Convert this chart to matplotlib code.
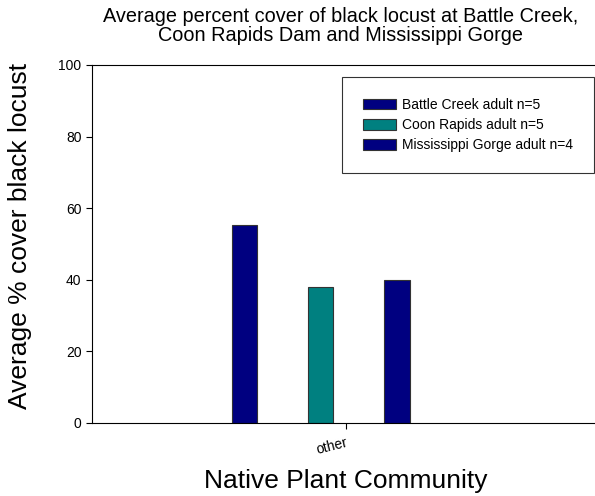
import matplotlib.pyplot as plt
from matplotlib.patches import Patch

plt.rcParams['font.family'] = ['Liberation Sans', 'DejaVu Sans']

# data
series = ['Battle Creek adult n=5', 'Coon Rapids adult n=5', 'Mississippi Gorge adult n=4']
values = [55.3, 37.8, 39.9]
colors = ['#000080', '#008080', '#000080']
offsets = [-0.4, -0.1, 0.2]
category = 'other'

fig = plt.figure(figsize=(5.95, 4.96), dpi=100)
ax = fig.add_axes([92 / 595, (496 - 422.7) / 496, (600 - 92) / 595, 357.7 / 496])

for name, v, c, off in zip(series, values, colors, offsets):
    ax.bar(off, v, width=0.1, color=c, edgecolor='#333333', linewidth=0.8, label=name)

ax.set_xlim(-1, 1)
ax.set_ylim(0, 100)
ax.set_xticks([0])
ax.set_xticklabels([category], rotation=14, fontsize=10, ha='right',
                   rotation_mode='anchor')
ax.set_yticks(range(0, 101, 20))
ax.tick_params(axis='y', labelsize=10, direction='out', length=4)
ax.tick_params(axis='x', direction='out', length=4, pad=5)
ax.spines['right'].set_visible(False)
for s in ['left', 'top', 'bottom']:
    ax.spines[s].set_linewidth(0.8)

fig.text(20 / 595, 1 - 236 / 496, 'Average % cover black locust', fontsize=19,
         rotation=90, ha='center', va='center')
fig.text(346 / 595, 1 - 481 / 496, 'Native Plant Community', fontsize=19, ha='center', va='center')
fig.text(341 / 595, 1 - 26 / 496,
         'Average percent cover of black locust at Battle Creek,\nCoon Rapids Dam and Mississippi Gorge',
         fontsize=14.3, ha='center', va='center', linespacing=1.05)

handles = [Patch(facecolor=c, edgecolor='#333333', linewidth=0.8) for c in colors]
leg = ax.legend(handles, series, loc='upper left',
                bbox_to_anchor=((342 - 92) / 508, 1 - (77 - 65) / 357.7),
                borderaxespad=0, fontsize=10, frameon=True, fancybox=False,
                edgecolor='black', borderpad=1.5, handlelength=2.4, handleheight=0.8,
                labelspacing=0.45, handletextpad=0.45)
leg.get_frame().set_linewidth(0.8)

fig.savefig('out.png', dpi=100)
